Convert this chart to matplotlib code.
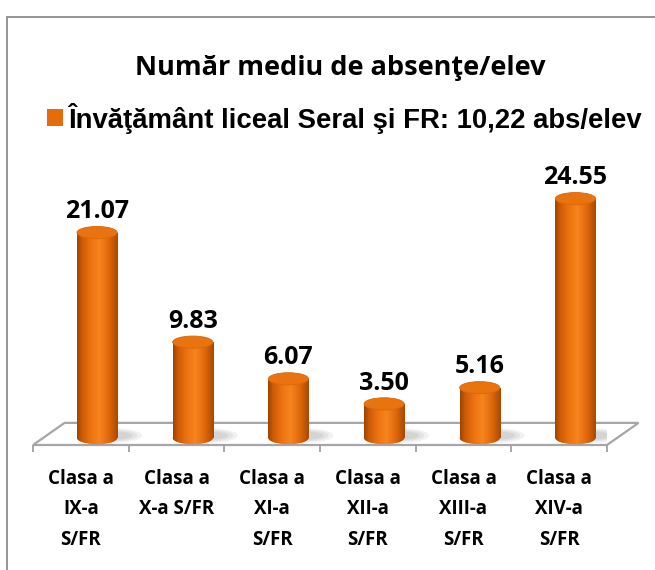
import numpy as np
import matplotlib
matplotlib.use("Agg")
import matplotlib.pyplot as plt
from matplotlib.colors import LinearSegmentedColormap
from matplotlib.patches import Ellipse, Polygon, Rectangle

# data
categories = [
    "Clasa a\nIX-a\nS/FR",
    "Clasa a\nX-a S/FR",
    "Clasa a\nXI-a\nS/FR",
    "Clasa a\nXII-a\nS/FR",
    "Clasa a\nXIII-a\nS/FR",
    "Clasa a\nXIV-a\nS/FR",
]
absences = [21.07, 9.83, 6.07, 3.50, 5.16, 24.55]
title = "Număr mediu de absenţe/elev"
series_name = "Învăţământ liceal Seral şi FR: 10,22 abs/elev"

CALIBRI = ["Open Sans", "DejaVu Sans"]
ARIAL = ["Liberation Sans", "DejaVu Sans"]
GRID_GRAY = "#A6A6A6"

cyl_cmap = LinearSegmentedColormap.from_list(
    "cyl",
    [(0.0, "#9E4503"), (0.12, "#CC5C06"), (0.35, "#EE7411"),
     (0.55, "#F7841F"), (0.8, "#DC6609"), (1.0, "#A84A03")],
)

fig = plt.figure(figsize=(6.55, 5.70), dpi=100)

# outer chart frame (only left and top edges are visible in the crop)
fig.patches.append(Rectangle((7 / 655, -0.2), 1.2, 1.2 - 17 / 570,
                             transform=fig.transFigure, fill=False,
                             edgecolor="#8C8C8C", linewidth=1.3))

ax = fig.add_axes([33 / 655, 1 - 445 / 570, 574 / 655, 265 / 570])

depth_dx = 0.17   # bars sit towards the back of the 3D floor
bar_w = 0.42
ell_h = 1.25

# floor of the 3D plot
floor = Polygon([(-0.5, -0.72), (5.5, -0.72), (5.83, 1.55), (-0.17, 1.55)],
                closed=True, facecolor="white", edgecolor=GRID_GRAY,
                linewidth=1.6, clip_on=False, zorder=1)
ax.add_patch(floor)

grad = np.linspace(0, 1, 64).reshape(1, -1)
for i, v in enumerate(absences):
    xc = i + depth_dx
    # soft shadow on the floor
    for k, a in enumerate([0.10, 0.12, 0.14]):
        ax.add_patch(Ellipse((xc + 0.16, 0.25), 0.62 - 0.1 * k, 1.5 - 0.3 * k,
                             facecolor="#7F7F7F", alpha=a, edgecolor="none",
                             zorder=2))
    rect = ax.bar(xc, v, width=bar_w, color="#E46C0A", zorder=3,
                  linewidth=0)[0]
    base = Ellipse((xc, 0), bar_w, ell_h, facecolor="#E46C0A",
                   edgecolor="none", zorder=3)
    ax.add_patch(base)
    for clip in (rect, base):
        im = ax.imshow(grad, extent=[xc - bar_w / 2, xc + bar_w / 2,
                                     -ell_h / 2, v],
                       aspect="auto", cmap=cyl_cmap, zorder=4,
                       interpolation="bilinear")
        im.set_clip_path(clip)
    ax.add_patch(Ellipse((xc, v), bar_w, ell_h, facecolor="#E9740F",
                         edgecolor="#D9680B", linewidth=0.6, zorder=5))
    ax.annotate(f"{v:.2f}", (xc, v), xytext=(0, 15),
                textcoords="offset points", ha="center", va="center",
                fontsize=18, fontweight="bold", family=CALIBRI, zorder=6)

ax.set_xlim(-0.5, 5.5)
ax.set_ylim(-0.72, 26.46)
for s in ax.spines.values():
    s.set_visible(False)
ax.set_yticks([])

ax.set_xticks(np.arange(-0.5, 6, 1))
ax.set_xticklabels([])
ax.tick_params(axis="x", which="major", length=5, width=1.4,
               color=GRID_GRAY)
ax.set_xticks(np.arange(len(categories)), minor=True)
ax.set_xticklabels(categories, minor=True, fontsize=13.5, fontweight="bold",
                   family=CALIBRI, linespacing=1.7)
ax.tick_params(axis="x", which="minor", length=0, pad=17)

fig.text(0.52, 1 - 68 / 570, title, ha="center", va="center",
         fontsize=19.5, fontweight="bold", family=CALIBRI)

fig.legend([rect], [series_name], loc="center",
           bbox_to_anchor=(0.526, 1 - 118 / 570), frameon=False,
           prop={"family": ARIAL, "weight": "bold", "size": 19.8},
           handlelength=0.55, handleheight=0.55, handletextpad=0.2)

fig.savefig("out.png", dpi=100)
